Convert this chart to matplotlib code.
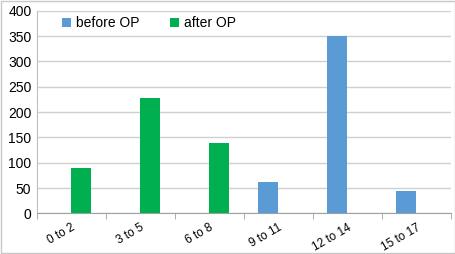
import numpy as np
import matplotlib.pyplot as plt
from matplotlib.patches import Rectangle
from matplotlib.transforms import ScaledTranslation

categories = ['0 to 2', '3 to 5', '6 to 8', '9 to 11', '12 to 14', '15 to 17']
before_op = [0, 0, 0, 61, 350, 44]
after_op = [90, 228, 138, 0, 0, 0]

plt.rcParams['font.family'] = ['Liberation Sans', 'DejaVu Sans']

fig = plt.figure(figsize=(4.56, 2.54), dpi=100)
ax = fig.add_axes([0.081, 0.160, 0.908, 0.798])

x = np.arange(len(categories))
w = 0.29
ax.bar(x - w / 2, before_op, w, color='#5B9BD5', label='before OP', zorder=3)
ax.bar(x + w / 2, after_op, w, color='#00B050', label='after OP', zorder=3)

ax.set_xlim(-0.5, len(categories) - 0.5)
ax.set_ylim(0, 400)
ax.set_yticks(range(0, 401, 50))
ax.yaxis.grid(True, color='#D0D0D0', linewidth=1)
ax.tick_params(axis='y', length=0, labelsize=10, pad=4)

ax.set_xticks(x)
ax.set_xticklabels(categories, rotation=30, fontsize=8.5, ha='right', va='top',
                   rotation_mode='anchor')
shift = ScaledTranslation(0.03, 0, fig.dpi_scale_trans)
for lab in ax.get_xticklabels():
    lab.set_transform(lab.get_transform() + shift)
ax.set_xticks(np.arange(-0.5, len(categories)), minor=True)
ax.tick_params(axis='x', which='major', length=0, pad=6)
ax.tick_params(axis='x', which='minor', length=4, color='#A0A0A0')

for s in ['top', 'right']:
    ax.spines[s].set_visible(False)
ax.spines['left'].set_color('#BFBFBF')
ax.spines['bottom'].set_color('#A0A0A0')

fig.legend(loc='center', bbox_to_anchor=(0.326, 0.908), ncol=2, frameon=False,
           fontsize=10, handlelength=0.7, handleheight=0.7, columnspacing=2.2,
           handletextpad=0.3)

fig.patches.append(Rectangle((0.002, 0.004), 0.995, 0.992, transform=fig.transFigure,
                             fill=False, edgecolor='#C8C8C8', linewidth=1))

fig.savefig('out.png', dpi=100)
